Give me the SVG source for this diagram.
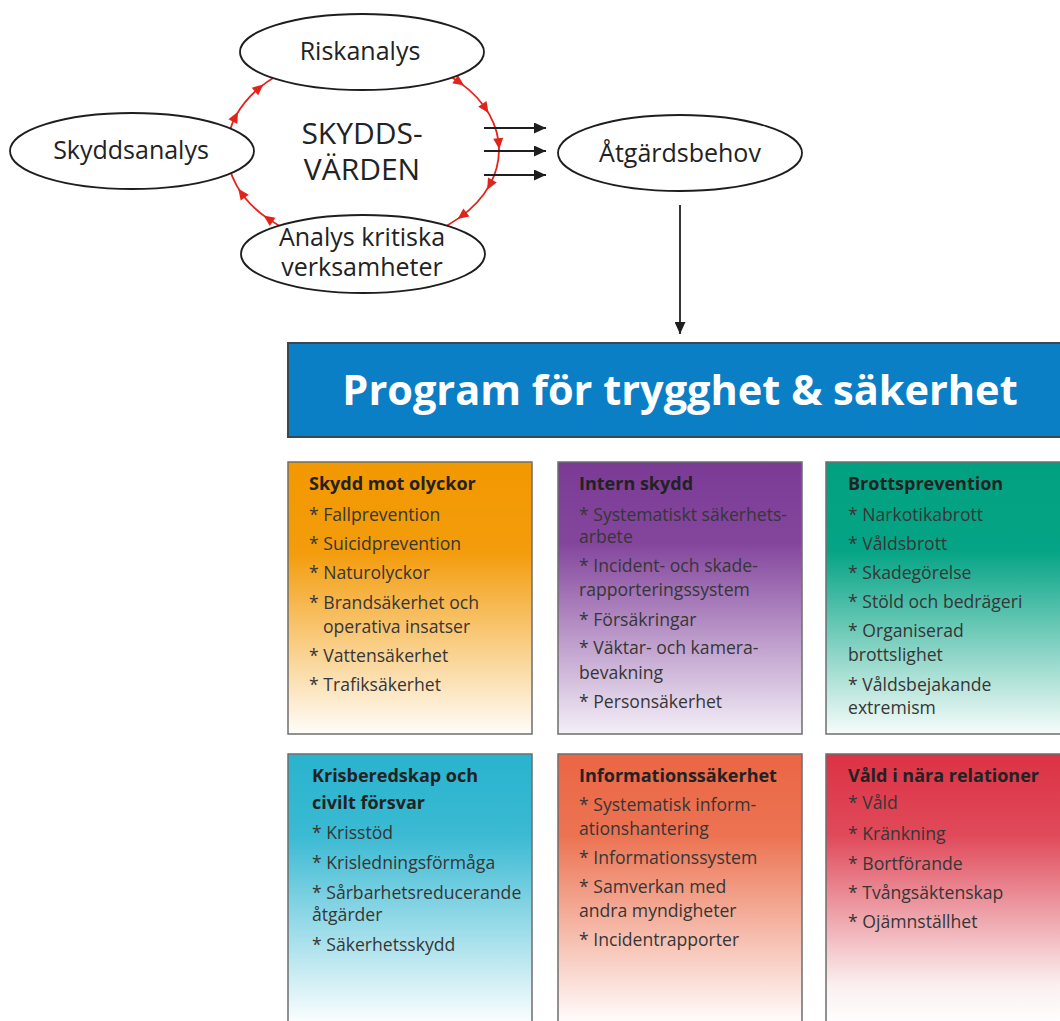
<svg xmlns="http://www.w3.org/2000/svg" width="1060" height="1021" viewBox="0 0 1060 1021">
<defs>
<linearGradient id="gOrange" x1="0" y1="0" x2="0" y2="1"><stop offset="0" stop-color="#f29800"/><stop offset="0.33" stop-color="#f39c0c"/><stop offset="1" stop-color="#fffdf9"/></linearGradient>
<linearGradient id="gPurple" x1="0" y1="0" x2="0" y2="1"><stop offset="0" stop-color="#7b3b95"/><stop offset="0.3" stop-color="#84469d"/><stop offset="1" stop-color="#f4eff7"/></linearGradient>
<linearGradient id="gGreen" x1="0" y1="0" x2="0" y2="1"><stop offset="0" stop-color="#00a181"/><stop offset="0.33" stop-color="#06a486"/><stop offset="1" stop-color="#f7fcfa"/></linearGradient>
<linearGradient id="gCyan" x1="0" y1="0" x2="0" y2="1"><stop offset="0" stop-color="#29b3ce"/><stop offset="0.3" stop-color="#3bbad3"/><stop offset="1" stop-color="#ffffff"/></linearGradient>
<linearGradient id="gCoral" x1="0" y1="0" x2="0" y2="1"><stop offset="0" stop-color="#eb6645"/><stop offset="0.3" stop-color="#ec7352"/><stop offset="1" stop-color="#ffffff"/></linearGradient>
<linearGradient id="gRed" x1="0" y1="0" x2="0" y2="1"><stop offset="0" stop-color="#dc3245"/><stop offset="0.3" stop-color="#e04a5a"/><stop offset="0.85" stop-color="#faf0f0"/><stop offset="1" stop-color="#ffffff"/></linearGradient>
<path id="rh" d="M6,0 L-5,-5 L-5,5 Z" fill="#e2231a"/>
<marker id="ah" markerUnits="userSpaceOnUse" markerWidth="12" markerHeight="11" refX="12" refY="5.5" orient="auto"><path d="M0,0 L12,5.5 L0,11 Z" fill="#1e1e1e"/></marker>
</defs>
<style>
.el{fill:#fff;stroke:#1e1e1e;stroke-width:1.8}
.et{font-family:'Open Sans',sans-serif;font-size:25px;fill:#222;text-anchor:middle}
.big{font-size:30px}
.bx{stroke:#6e6e6e;stroke-width:1.5}
.ti{font-family:'Open Sans',sans-serif;font-weight:bold;font-size:18px;fill:#222}
.it{font-family:'Open Sans',sans-serif;font-size:17.6px;fill:#363636}
.ar{stroke:#1e1e1e;stroke-width:1.8;fill:none}
</style>
<rect width="1060" height="1021" fill="#fff"/>

<g id="connectors">
<ellipse cx="363" cy="150" rx="136" ry="96" fill="none" stroke="#e2231a" stroke-width="1.8"/>
<use href="#rh" transform="translate(258.8,88.3) rotate(-40.1)"/>
<use href="#rh" transform="translate(235.2,117.2) rotate(-62.7)"/>
<use href="#rh" transform="translate(459.2,82.1) rotate(35.2)"/>
<use href="#rh" transform="translate(485.2,108) rotate(55.4)"/>
<use href="#rh" transform="translate(498.7,143.3) rotate(84.3)"/>
<use href="#rh" transform="translate(490,184.4) rotate(118.5)"/>
<use href="#rh" transform="translate(462.4,215.5) rotate(142.9)"/>
<use href="#rh" transform="translate(268.5,219) rotate(-145.7)"/>
<use href="#rh" transform="translate(241.8,193.6) rotate(-125.8)"/>
<line class="ar" x1="484" y1="128" x2="546" y2="128" marker-end="url(#ah)"/>
<line class="ar" x1="484" y1="151" x2="546" y2="151" marker-end="url(#ah)"/>
<line class="ar" x1="484" y1="175" x2="546" y2="175" marker-end="url(#ah)"/>
<line class="ar" x1="680" y1="205" x2="680" y2="334" marker-end="url(#ah)"/>
</g>

<g id="riskanalys">
<ellipse class="el" cx="362" cy="52" rx="122" ry="38"/>
<text class="et" x="360" y="60">Riskanalys</text>
</g>
<g id="skyddsanalys">
<ellipse class="el" cx="132" cy="151" rx="122" ry="38"/>
<text class="et" x="131" y="159">Skyddsanalys</text>
</g>
<g id="analys-kritiska">
<ellipse class="el" cx="363" cy="254" rx="122" ry="39"/>
<text class="et" x="362" y="246">Analys kritiska</text>
<text class="et" x="362" y="276">verksamheter</text>
</g>
<g id="skyddsvarden">
<text class="et big" x="362" y="144">SKYDDS-</text>
<text class="et big" x="362" y="180">VÄRDEN</text>
</g>
<g id="atgardsbehov">
<ellipse class="el" cx="680" cy="153" rx="122" ry="38"/>
<text class="et" x="680" y="162">Åtgärdsbehov</text>
</g>

<g id="program">
<rect x="288" y="343" width="780" height="94" fill="#0a7fc6" stroke="#3c4650" stroke-width="2"/>
<text x="680" y="405" text-anchor="middle" font-family="'Open Sans',sans-serif" font-weight="bold" font-size="41.5" fill="#fff">Program för trygghet &amp; säkerhet</text>
</g>

<g id="skydd-mot-olyckor">
<rect class="bx" x="288" y="462" width="244" height="272" fill="url(#gOrange)"/>
<text class="ti" x="309" y="490">Skydd mot olyckor</text>
<text class="it" x="309" y="521">* Fallprevention</text>
<text class="it" x="309" y="550">* Suicidprevention</text>
<text class="it" x="309" y="579">* Naturolyckor</text>
<text class="it" x="309" y="609">* Brandsäkerhet och</text>
<text class="it" x="323" y="633">operativa insatser</text>
<text class="it" x="309" y="662">* Vattensäkerhet</text>
<text class="it" x="309" y="691">* Trafiksäkerhet</text>
</g>

<g id="intern-skydd">
<rect class="bx" x="558" y="462" width="244" height="272" fill="url(#gPurple)"/>
<text class="ti" x="579" y="490">Intern skydd</text>
<text class="it" x="579" y="521">* Systematiskt säkerhets-</text>
<text class="it" x="579" y="543">arbete</text>
<text class="it" x="579" y="572">* Incident- och skade-</text>
<text class="it" x="579" y="596">rapporteringssystem</text>
<text class="it" x="579" y="626">* Försäkringar</text>
<text class="it" x="579" y="654">* Väktar- och kamera-</text>
<text class="it" x="579" y="679">bevakning</text>
<text class="it" x="579" y="708">* Personsäkerhet</text>
</g>

<g id="brottsprevention">
<rect class="bx" x="826" y="462" width="244" height="272" fill="url(#gGreen)"/>
<text class="ti" x="848" y="490">Brottsprevention</text>
<text class="it" x="848" y="521">* Narkotikabrott</text>
<text class="it" x="848" y="550">* Våldsbrott</text>
<text class="it" x="848" y="579">* Skadegörelse</text>
<text class="it" x="848" y="608">* Stöld och bedrägeri</text>
<text class="it" x="848" y="637">* Organiserad</text>
<text class="it" x="848" y="661">brottslighet</text>
<text class="it" x="848" y="691">* Våldsbejakande</text>
<text class="it" x="848" y="714">extremism</text>
</g>

<g id="krisberedskap">
<rect class="bx" x="288" y="754" width="244" height="272" fill="url(#gCyan)"/>
<text class="ti" x="312" y="782">Krisberedskap och</text>
<text class="ti" x="312" y="809">civilt försvar</text>
<text class="it" x="312" y="839">* Krisstöd</text>
<text class="it" x="312" y="869">* Krisledningsförmåga</text>
<text class="it" x="312" y="899">* Sårbarhetsreducerande</text>
<text class="it" x="312" y="921">åtgärder</text>
<text class="it" x="312" y="951">* Säkerhetsskydd</text>
</g>

<g id="informationssakerhet">
<rect class="bx" x="558" y="754" width="244" height="272" fill="url(#gCoral)"/>
<text class="ti" x="579" y="782">Informationssäkerhet</text>
<text class="it" x="579" y="811">* Systematisk inform-</text>
<text class="it" x="579" y="835">ationshantering</text>
<text class="it" x="579" y="864">* Informationssystem</text>
<text class="it" x="579" y="893">* Samverkan med</text>
<text class="it" x="579" y="917">andra myndigheter</text>
<text class="it" x="579" y="946">* Incidentrapporter</text>
</g>

<g id="vald-i-nara-relationer">
<rect class="bx" x="826" y="754" width="244" height="272" fill="url(#gRed)"/>
<text class="ti" x="848" y="782">Våld i nära relationer</text>
<text class="it" x="848" y="809">* Våld</text>
<text class="it" x="848" y="840">* Kränkning</text>
<text class="it" x="848" y="870">* Bortförande</text>
<text class="it" x="848" y="899">* Tvångsäktenskap</text>
<text class="it" x="848" y="928">* Ojämnställhet</text>
</g>
</svg>
